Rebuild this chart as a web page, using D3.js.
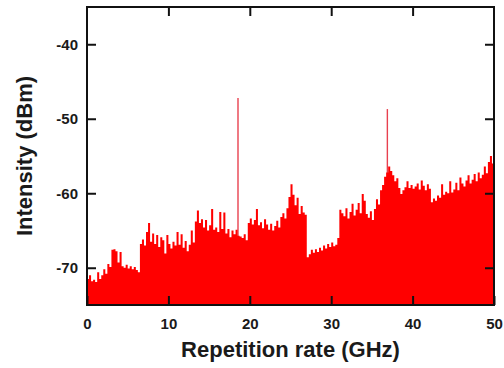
<!DOCTYPE html>
<html>
<head>
<meta charset="utf-8">
<script src="https://cdn.jsdelivr.net/npm/d3@7"></script>
<style>
  body { margin: 0; background: #fff; }
  text { font-family: "Liberation Sans", Arial, sans-serif; font-weight: bold; fill: #1a1a1a; }
</style>
</head>
<body>
<div id="chart"></div>
<script>
// spectrum sampled every 0.25 GHz, 0..50 GHz (dBm)
var step = 0.25;
var intensity = [
  -71.5, -71.0, -71.8, -71.6, -71.9, -70.6, -71.5, -71.0, -70.2, -70.8,
  -69.5, -69.9, -67.6, -67.5, -67.8, -69.3, -67.9, -69.8, -70.0, -69.6,
  -70.1, -69.8, -70.2, -69.9, -70.3, -70.6, -66.8, -66.2, -67.0, -65.2,
  -64.0, -66.5, -65.4, -66.8, -65.6, -67.2, -65.9, -66.3, -68.1, -65.6,
  -66.8, -67.4, -66.5, -67.0, -65.2, -66.9, -65.5, -67.3, -66.4, -67.8,
  -66.9, -65.0, -66.6, -63.8, -62.3, -64.0, -63.5, -64.6, -63.6, -65.0,
  -64.3, -62.1, -64.9, -64.6, -65.2, -62.5, -64.8, -62.6, -65.4, -64.8,
  -65.9, -65.0, -65.5, -64.9, -65.7, -65.8, -66.0, -65.5, -66.3, -64.0,
  -63.4, -64.2, -63.6, -62.1, -64.3, -63.9, -64.7, -63.5, -64.2, -64.9,
  -64.1, -65.0, -64.4, -63.7, -64.6, -63.2, -62.7, -63.4, -62.0, -60.5,
  -58.8, -60.2, -61.6, -60.6, -62.8, -61.7, -62.6, -62.9, -68.6, -68.2,
  -67.6, -68.0, -67.5, -67.9, -67.3, -67.7, -67.0, -67.4, -66.8, -67.2,
  -66.6, -67.1, -66.9, -66.0, -62.2, -62.7, -63.1, -62.0, -63.4, -62.5,
  -61.4, -63.0, -62.2, -61.3, -62.7, -60.1, -61.0, -62.8, -63.3, -62.4,
  -63.6, -62.1, -60.8, -61.5, -59.6, -58.9, -57.8, -57.2, -56.4, -57.0,
  -57.6, -58.4, -58.0, -59.3, -60.1, -59.6, -59.2, -58.4, -59.3, -58.9,
  -59.4, -59.1, -58.7, -59.5, -58.3, -59.0, -59.6, -58.8, -59.4, -61.2,
  -60.7, -61.0, -60.3, -60.6, -58.8, -60.2, -59.8, -60.0, -58.4, -59.9,
  -59.5, -58.6, -59.6, -57.9, -58.7, -59.1, -58.3, -57.6, -58.7, -58.2,
  -57.4, -58.4, -57.2, -58.0, -57.5, -56.4, -57.3, -55.8, -55.0, -56.0,
  -56.5
];
// narrow repetition-rate lines
var spikeFreq = [18.55, 36.9];
var spikeLevel = [-47.2, -48.7];

var xTicks = [0, 10, 20, 30, 40, 50];
var yTicks = [-40, -50, -60, -70];

var margins = {top: 7, right: 10, bottom: 63, left: 87};
var width = 504, height = 368;
var chartWidth = width - margins.left - margins.right;
var chartHeight = height - margins.top - margins.bottom;

var data = intensity.map(function(v, i) { return {x: i * step, y: v}; });

var svg = d3.select("#chart").append("svg")
    .attr("width", width)
    .attr("height", height);

var cht = svg.append("g")
    .attr("transform", "translate(" + margins.left + "," + margins.top + ")");

var xScale = d3.scaleLinear().domain([0, 50]).range([0, chartWidth]);
var yScale = d3.scaleLinear().domain([-75, -35]).range([chartHeight, 0]);

// spikes first, the fill hides their lower part
cht.selectAll(".spike")
    .data(spikeFreq)
    .enter().append("line")
    .attr("class", "spike")
    .attr("x1", function(d) { return xScale(d); })
    .attr("x2", function(d) { return xScale(d); })
    .attr("y1", chartHeight)
    .attr("y2", function(d, i) { return yScale(spikeLevel[i]); })
    .style("stroke", "#e8404f")
    .style("stroke-width", 1.4);

// spectrum fill
var area = d3.area()
    .curve(d3.curveStepAfter)
    .x(function(d) { return xScale(d.x); })
    .y0(chartHeight)
    .y1(function(d) { return yScale(d.y); });

cht.append("path")
    .datum(data)
    .attr("d", area)
    .style("fill", "#ff0000");

// axes, ticks pointing inward
var tickLen = 9;
var fmt = function(d) { return String(d); };
var axisStyle = function(g) {
    g.select(".domain").remove();
    g.selectAll(".tick line").style("stroke", "#111").style("stroke-width", 2);
    g.selectAll(".tick text").style("font-size", "15px").style("fill", "#1a1a1a");
};

cht.append("g")
    .attr("transform", "translate(0," + chartHeight + ")")
    .call(d3.axisBottom(xScale).tickValues(xTicks).tickFormat(fmt).tickSizeInner(-tickLen).tickSizeOuter(0).tickPadding(13))
    .call(axisStyle);

cht.append("g")
    .call(d3.axisTop(xScale).tickValues(xTicks.slice(1, -1)).tickSizeInner(-tickLen).tickSizeOuter(0).tickFormat(""))
    .call(axisStyle);

cht.append("g")
    .call(d3.axisLeft(yScale).tickValues(yTicks).tickFormat(fmt).tickSizeInner(-tickLen).tickSizeOuter(0).tickPadding(9))
    .call(axisStyle);

cht.append("g")
    .attr("transform", "translate(" + chartWidth + ",0)")
    .call(d3.axisRight(yScale).tickValues(yTicks).tickSizeInner(-tickLen).tickSizeOuter(0).tickFormat(""))
    .call(axisStyle);

// frame
cht.append("rect")
    .attr("width", chartWidth)
    .attr("height", chartHeight)
    .style("fill", "none")
    .style("stroke", "#111")
    .style("stroke-width", 2);

// titles
svg.append("text")
    .attr("x", margins.left + chartWidth / 2)
    .attr("y", 357)
    .attr("text-anchor", "middle")
    .style("font-size", "22px")
    .text("Repetition rate (GHz)");

svg.append("text")
    .attr("transform", "translate(32," + (margins.top + chartHeight / 2) + ") rotate(-90)")
    .attr("text-anchor", "middle")
    .style("font-size", "22px")
    .text("Intensity (dBm)");
</script>
</body>
</html>
